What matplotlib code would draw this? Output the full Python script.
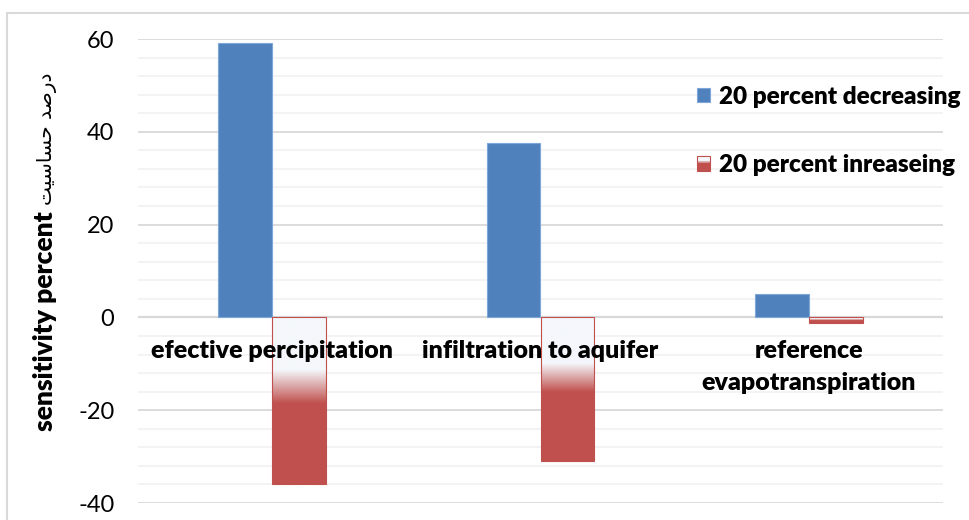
import matplotlib
matplotlib.use('Agg')
import matplotlib.pyplot as plt
import numpy as np
from matplotlib.patches import Rectangle
from matplotlib.legend_handler import HandlerBase
from matplotlib.colors import to_rgba
from matplotlib.ticker import MultipleLocator

categories = ['efective percipitation', 'infiltration to aquifer', 'reference\nevapotranspiration']
decreasing = [59.1, 37.5, 5.1]
increasing = [-36.0, -31.0, -1.2]
series_names = ['20 percent decreasing', '20 percent inreaseing']
y_ticks = [-40, -20, 0, 20, 40, 60]

BLUE = '#4f81bd'
RED = '#c0504d'
PALE = '#f4f7fb'

plt.rcParams['font.family'] = ['Lato', 'DejaVu Sans']
plt.rcParams['axes.unicode_minus'] = False


def fade(t):
    # pale near the zero line, turning red about a third of the way down
    w = np.clip((t - 0.32) / 0.2, 0, 1)[:, None]
    return (1 - w) * np.array(to_rgba(PALE)) + w * np.array(to_rgba(RED))


class FadeHandler(HandlerBase):
    """legend key drawn as stacked strips so it shows the same fade"""
    def create_artists(self, legend, orig, xd, yd, width, height, fontsize, trans):
        n = 24
        cols = fade(np.linspace(0, 1, n) * 0.9 + 0.05)
        out = []
        for i in range(n):
            r = Rectangle((-xd, -yd + height * (1 - (i + 1) / n)), width, height / n + 0.3,
                          facecolor=cols[i], edgecolor='none', transform=trans)
            out.append(r)
        out.append(Rectangle((-xd, -yd), width, height, facecolor='none',
                             edgecolor=RED, linewidth=0.8, transform=trans))
        return out


fig = plt.figure(figsize=(9.7, 5.2), dpi=100)
ax = fig.add_axes([138 / 970, 17 / 520, 805 / 970, 464 / 520])

x = np.arange(len(categories))
width = 0.2

blue_bars = ax.bar(x - width / 2, decreasing, width, color=BLUE, edgecolor='#7ea6d8',
                   linewidth=0.8, zorder=2, label=series_names[0])
red_bars = ax.bar(x + width / 2, increasing, width, color='none', edgecolor=RED,
                  linewidth=0.8, zorder=3, label=series_names[1])

# gradient fill for the red bars
grad = fade(np.linspace(0, 1, 256)).reshape(256, 1, 4)
for r in red_bars:
    x0, y0 = r.get_x(), r.get_y()
    im = ax.imshow(grad, extent=(x0, x0 + r.get_width(), y0 + r.get_height(), y0),
                   aspect='auto', origin='upper', zorder=2.5, interpolation='bilinear')
    im.set_clip_path(r)

ax.set_xlim(-0.5, len(categories) - 0.5)
ax.set_ylim(-40, 60)
ax.set_yticks(y_ticks)
ax.yaxis.set_minor_locator(MultipleLocator(4))
ax.set_xticks([])
ax.set_axisbelow(True)
ax.grid(axis='y', which='major', color='#d9d9d9', linewidth=1.3)
ax.grid(axis='y', which='minor', color='#f2f2f2', linewidth=1.3)
ax.tick_params(axis='y', which='both', length=0, pad=17, labelsize=17)
for s in ax.spines.values():
    s.set_visible(False)
ax.axhline(0, color='#d9d9d9', linewidth=1.6, zorder=1.8)

for i, name in enumerate(categories):
    ax.annotate(name, xy=(x[i], 0), xytext=(0, -16), textcoords='offset points',
                ha='center', va='top', fontsize=18, fontweight='heavy',
                linespacing=1.55, zorder=5)

ax.legend(handles=[blue_bars, red_bars], labels=series_names,
          handler_map={red_bars: FadeHandler()},
          loc='upper left', bbox_to_anchor=(697 / 970, (520 - 86) / 520),
          bbox_transform=fig.transFigure, frameon=False, borderpad=0,
          borderaxespad=0, handlelength=0.52, handleheight=0.52,
          handletextpad=0.37, labelspacing=1.9,
          prop={'weight': 'heavy', 'size': 17.5})

# axis title: english part in bold, persian part regular
t1 = fig.text(45 / 970, (520 - 431) / 520, 'sensitivity percent', rotation=90,
              rotation_mode='anchor', ha='left', va='center', fontsize=19,
              fontweight='heavy')
fig.canvas.draw()
bb = t1.get_window_extent()
persian = '\uFE96\uFEF4\uFEB3\uFE8E\uFEB4\uFEA3 \uFEAA\uFEBB\uFEAD\uFEA9'
fig.text(47 / 970, (bb.y1 + 6) / (fig.dpi * 5.2), persian, rotation=90,
         rotation_mode='anchor', ha='left', va='center', fontsize=14.5,
         family='DejaVu Sans')

# light frame around the chart
fig.patches.append(Rectangle((7 / 970, -0.1), 1.2, (520 - 13) / 520 + 0.1,
                             transform=fig.transFigure, fill=False,
                             edgecolor='#d9d9d9', linewidth=1.5))

fig.savefig('out.png', dpi=100)
